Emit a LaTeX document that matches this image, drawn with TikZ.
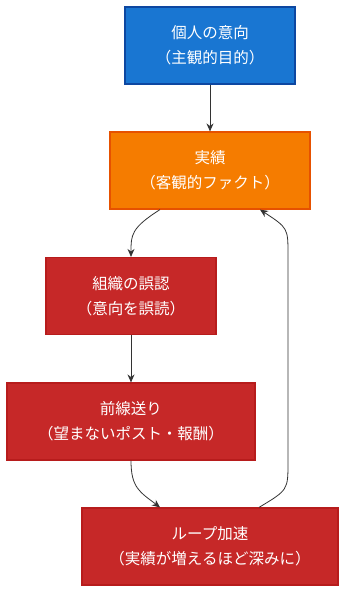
\documentclass[tikz,border=0pt]{standalone}
\usepackage{fontspec}
\usetikzlibrary{arrows.meta}
\setmainfont{Noto Sans CJK JP}
\definecolor{intentblue}{HTML}{1976D2}
\definecolor{intentedge}{HTML}{0D47A1}
\definecolor{factorange}{HTML}{F57C00}
\definecolor{factedge}{HTML}{E65100}
\definecolor{errred}{HTML}{C62828}
\definecolor{erredge}{HTML}{B71C1C}
\definecolor{linkgray}{HTML}{333333}

\begin{document}
\begin{tikzpicture}[x=1pt, y=-1pt, >={Stealth[length=8pt, width=7pt]},
  every node/.style={font=\fontsize{15.5}{25}\selectfont},
  box/.style={draw, line width=1.2pt, align=center, text=white, minimum height=77pt, inner sep=0pt},
  link/.style={->, draw=linkgray, line width=0.8pt}]
\useasboundingbox (0,0) rectangle (353,606);
\node[box, fill=intentblue, draw=intentedge, minimum width=170pt] (intent) at (210,45.5) {個人の意向\\（主観的目的）};
\node[box, fill=factorange, draw=factedge, minimum width=200pt] (fact) at (210,170.5) {実績\\（客観的ファクト）};
\node[box, fill=errred, draw=erredge, minimum width=170pt] (misread) at (131,296) {組織の誤認\\（意向を誤読）};
\node[box, fill=errred, draw=erredge, minimum width=248pt] (front) at (131,421.5) {前線送り\\（望まないポスト・報酬）};
\node[box, fill=errred, draw=erredge, minimum width=256pt] (loop) at (210,546.5) {ループ加速\\（実績が増えるほど深みに）};
\draw[link] (intent) -- (fact);
\draw[link] ([xshift=-50pt]fact.south) .. controls (131,228) and (131,235) .. (misread);
\draw[link] (misread) -- (front);
\draw[link] (front) .. controls (131,488) and (140,492) .. ([xshift=-50pt]loop.north);
\draw[link] ([xshift=49pt]loop.north) .. controls (288,490) .. (288,462) -- (288,255) .. controls (288,228) .. ([xshift=50pt]fact.south);
\end{tikzpicture}
\end{document}
